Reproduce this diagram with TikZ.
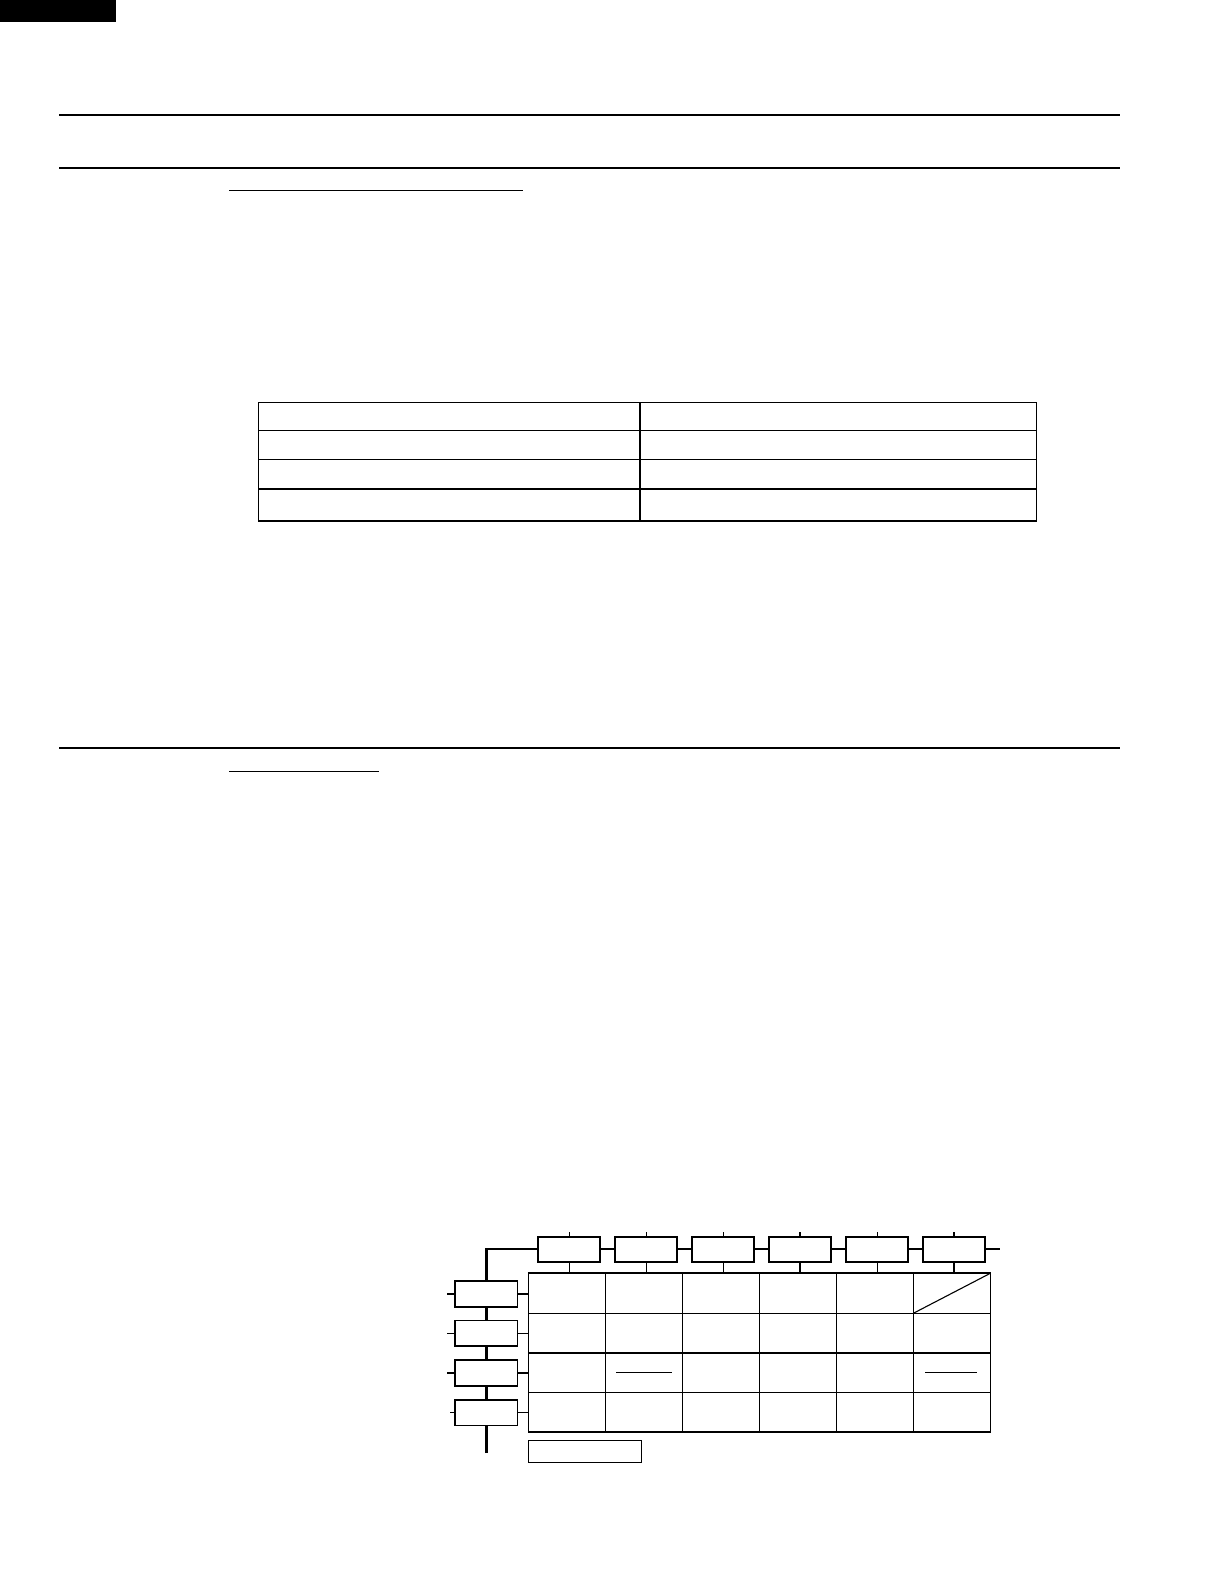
\documentclass[tikz,border=0pt]{standalone}
\begin{document}
\begin{tikzpicture}[x=0.5bp,y=-0.5bp,
  rulethick/.style={line width=0.85bp},
  rulethin/.style={line width=0.5bp},
  gridthin/.style={line width=0.55bp},
  gridthick/.style={line width=0.85bp},
  vbus/.style={line width=1.65bp},
  hbus/.style={line width=1.0bp},
  tickthin/.style={line width=0.5bp},
  tickthick/.style={line width=1.0bp},
  tbox/.style={draw, fill=white, line width=0.85bp, minimum width=31bp, minimum height=12.5bp, inner sep=0pt, outer sep=0pt},
  lbox/.style={draw, fill=white, line width=0.85bp, minimum width=31.15bp, minimum height=12.85bp, inner sep=0pt, outer sep=0pt},
  bbox/.style={draw, fill=white, line width=0.6bp, minimum width=56.7bp, minimum height=11.1bp, inner sep=0pt, outer sep=0pt}]
\useasboundingbox (0,0) rectangle (1224,1584);

% header block and rules
\fill (0,0) rectangle (116,21.7);
\draw[rulethick] (59,115) -- (1120,115);
\draw[rulethick] (59,167.7) -- (1120,167.7);
\draw[rulethin] (229.3,190.9) -- (523.3,190.9);
\draw[rulethick] (59,748) -- (1120,748);
\draw[rulethin] (229.3,771.2) -- (379,771.2);

% upper table
\draw[gridthin] (258.5,402.3) rectangle (1036.5,521);
\draw[gridthin] (640,402.3) -- (640,521);
\foreach \yy in {430.7,459.3,489} \draw[gridthin] (258.5,\yy) -- (1036.5,\yy);

% diagram coordinates
\coordinate (corner) at (486.5,1249.3);
\coordinate (busEnd) at (486.5,1453);
\coordinate (rEnd) at (1000,1249.3);
\coordinate (tabTop) at (528.3,1273.3);
\coordinate (tabLeft) at (528.3,1300);
\coordinate (tickTop) at (528.3,1232.3);

% buses
\draw[vbus] (busEnd) -- ([yshift=0.5bp]corner);
\draw[hbus] (corner) -- (rEnd);

% top boxes
\foreach \i/\xx in {1/569.3,2/646.3,3/723.3,4/800.3,5/877.3,6/954.3}
  \node[tbox] (t\i) at (\xx,1249.2) {};
% left boxes
\node[lbox] (l1) at (486.2,1293.8) {};
\node[lbox] (l2) at (486.2,1333.4) {};
\node[lbox] (l3) at (486.2,1372.8) {};
\node[lbox] (l4) at (486.2,1412.5) {};

% ticks on top boxes
\foreach \i in {1,2,3,5} {
  \draw[tickthin] (t\i.north) -- (t\i.north |- tickTop);
  \draw[tickthin] (t\i.south) -- (t\i.south |- tabTop);
}
\foreach \i in {4,6} {
  \draw[tickthick] (t\i.north) -- (t\i.north |- tickTop);
  \draw[tickthick] (t\i.south) -- (t\i.south |- tabTop);
}

% stubs on left boxes
\draw[tickthick] (l1.west) -- ++(-8.3,0);
\draw[tickthick] (l1.east) -- (l1.east -| tabLeft);
\draw[tickthin] (l2.west) -- ++(-8.3,0);
\draw[tickthin] (l2.east) -- (l2.east -| tabLeft);
\draw[tickthick] (l3.west) -- ++(-8.3,0);
\draw[tickthick] (l3.east) -- (l3.east -| tabLeft);
\draw[tickthin] (l4.west) -- ++(-5,0);
\draw[tickthin] (l4.east) -- (l4.east -| tabLeft);

% lower table grid
\draw[gridthin] (528.3,1273.3) -- (528.3,1432) -- (990.3,1432) -- (990.3,1273.3);
\draw[gridthick] (527.9,1273.3) -- (990.7,1273.3);
\draw[gridthin] (528.3,1313.3) -- (990.3,1313.3);
\draw[gridthick] (528.3,1352.7) -- (990.3,1352.7);
\draw[gridthin] (528.3,1392.3) -- (990.3,1392.3);
\foreach \xx in {605.3,682.3,759.3,836.3,913.3}
  \draw[gridthin] (\xx,1273.3) -- (\xx,1432);
\draw[gridthin] (990.3,1273.3) -- (913.3,1313.3);
\draw[gridthin] (616,1372.3) -- (671.7,1372.3);
\draw[gridthin] (925.3,1372.3) -- (976.7,1372.3);

% bottom box
\node[bbox] (bb) at (585,1451.5) {};
\draw[gridthick] (bb.north west) -- (bb.north east);
\end{tikzpicture}
\end{document}
